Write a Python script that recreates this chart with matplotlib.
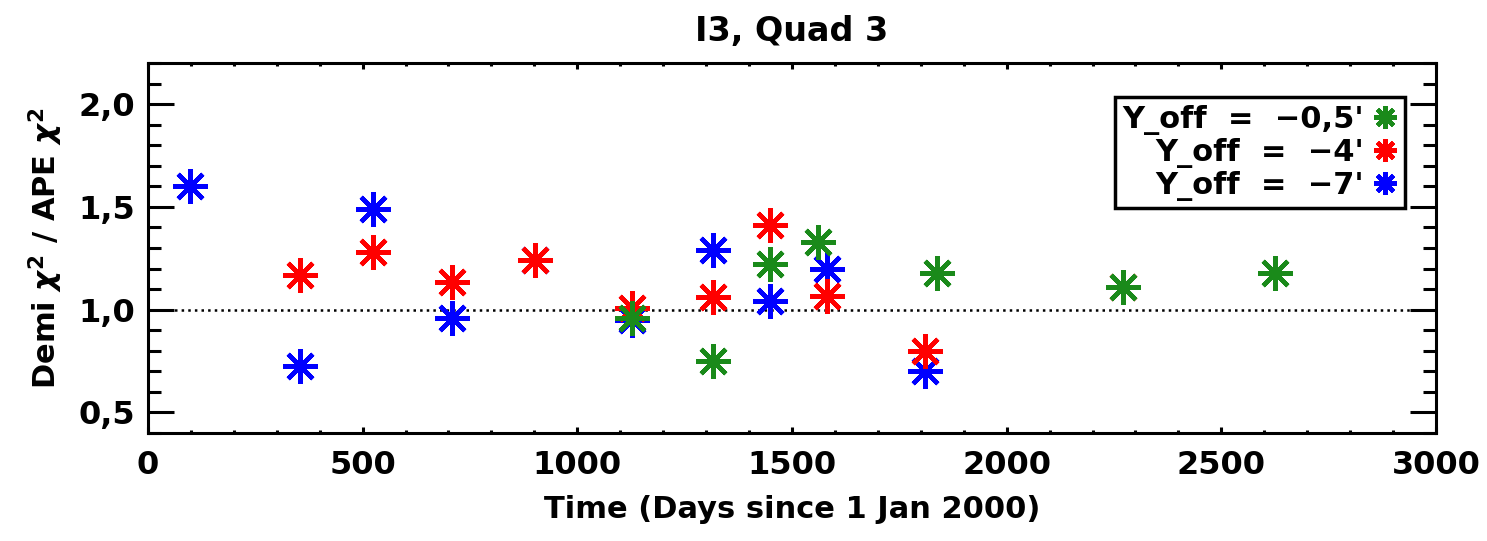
import numpy as np
import matplotlib.pyplot as plt
from matplotlib.ticker import MultipleLocator, FuncFormatter

# data (days since 1 Jan 2000, chi^2 ratio)
blue_t = [98, 354, 524, 708, 901, 1127, 1316, 1449, 1582, 1810]
blue_r = [1.60, 0.725, 1.49, 0.96, 1.24, 0.95, 1.29, 1.04, 1.20, 0.70]

red_t = [354, 524, 708, 901, 1127, 1316, 1449, 1582, 1810, 2271]
red_r = [1.17, 1.28, 1.137, 1.24, 1.01, 1.06, 1.41, 1.065, 0.80, 1.11]

green_t = [1127, 1316, 1449, 1561, 1838, 2271, 2625]
green_r = [0.96, 0.75, 1.22, 1.33, 1.18, 1.11, 1.18]

labels = ["Y_off  =  \u22120,5'", "Y_off  =  \u22124'", "Y_off  =  \u22127'"]

plt.rcParams['font.family'] = ['DejaVu Sans']
plt.rcParams['font.weight'] = 'bold'

fig = plt.figure(figsize=(14.87, 5.41), dpi=100)
ax = fig.add_axes([0.0995, 0.1996, 0.8662, 0.6839])

star = (8, 2, 0)
kw = dict(linestyle='none', marker=star, markersize=25, markeredgewidth=3.2)

ax.axhline(1.0, color='black', linestyle=':', linewidth=1.8, zorder=1)
hb, = ax.plot(blue_t, blue_r, color='#0000ff', markeredgecolor='#0000ff', **kw)
hr, = ax.plot(red_t, red_r, color='#ff0000', markeredgecolor='#ff0000', **kw)
hg, = ax.plot(green_t, green_r, color='#1a8a1a', markeredgecolor='#1a8a1a', **kw)

ax.set_xlim(0, 3000)
ax.set_ylim(0.4, 2.2)
ax.xaxis.set_major_locator(MultipleLocator(500))
ax.xaxis.set_minor_locator(MultipleLocator(100))
ax.yaxis.set_major_locator(MultipleLocator(0.5))
ax.yaxis.set_minor_locator(MultipleLocator(0.1))
ax.yaxis.set_major_formatter(FuncFormatter(lambda v, p: ('%.1f' % v).replace('.', ',')))

for s in ax.spines.values():
    s.set_linewidth(2.2)

ax.tick_params(which='both', direction='in', top=True, right=True, width=2.2, labelsize=23)
ax.tick_params(axis='y', which='major', length=19, pad=9)
ax.tick_params(axis='y', which='minor', length=9.5)
ax.tick_params(axis='x', which='major', length=4.5, pad=12)
ax.tick_params(axis='x', which='minor', length=2)

ax.set_title('I3, Quad 3', fontsize=24, pad=16, fontweight='bold')
ax.set_xlabel('Time (Days since 1 Jan 2000)', fontsize=22, labelpad=10, fontweight='bold')
ax.set_ylabel(r'Demi $\chi^2$ / APE $\chi^2$', fontsize=22, labelpad=10, fontweight='bold')

leg = ax.legend([hg, hr, hb], labels, loc='upper right', bbox_to_anchor=(0.976, 0.908),
                borderaxespad=0, markerfirst=False, fancybox=False, framealpha=1,
                edgecolor='black', handlelength=0.8, handletextpad=0.3,
                labelspacing=0.1, borderpad=0.25, markerscale=0.65,
                prop={'weight': 'bold', 'size': 22})
leg.get_frame().set_linewidth(2.5)

fig.savefig('out.png', dpi=100)
